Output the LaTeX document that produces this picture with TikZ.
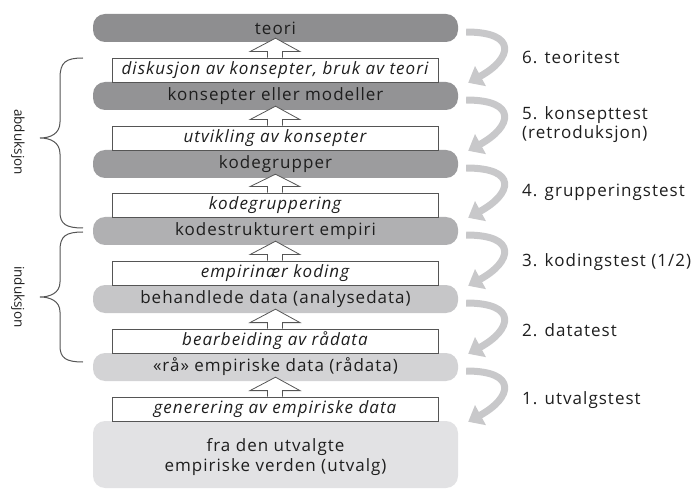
\documentclass[tikz,border=0pt]{standalone}
\usepackage{fontspec}
\setmainfont{Open Sans}[LetterSpace=6]
\usetikzlibrary{calc,arrows.meta}
\definecolor{gA}{HTML}{8E8E90}
\definecolor{gB}{HTML}{939395}
\definecolor{gC}{HTML}{9C9C9E}
\definecolor{gD}{HTML}{B0B0B2}
\definecolor{gE}{HTML}{C6C6C8}
\definecolor{gF}{HTML}{D3D3D5}
\definecolor{gG}{HTML}{E2E2E4}
\definecolor{curvgray}{HTML}{C8C8CA}
\definecolor{txt}{HTML}{1E1E1E}
\definecolor{edge}{HTML}{555555}
\tikzset{
  bar/.style={fill=#1, draw=none, rounded corners=12pt, minimum width=365pt, minimum height=28pt,
    inner sep=0pt, text=txt, font=\fontsize{17}{20}\selectfont},
  wbox/.style={fill=white, draw=edge, line width=0.8pt, minimum width=326pt, minimum height=24pt,
    inner sep=0pt, text=txt, font=\fontsize{17}{20}\selectfont\itshape},
  hollow/.style={fill=white, draw=edge, line width=0.8pt, line join=miter},
  curv/.style={draw=curvgray, line width=7pt, -{Triangle[width=22pt,length=14pt]}},
  testlbl/.style={anchor=west, inner sep=0pt, text=txt, align=left, font=\fontsize{17}{19}\selectfont},
  bracestyle/.style={draw=edge, line width=1pt},
  sidelbl/.style={rotate=-90, inner sep=0pt, text=txt, font=\fontsize{13.5}{16}\selectfont},
}
\begin{document}
\begin{tikzpicture}[x=1pt,y=-1pt]
\useasboundingbox (0,0) rectangle (699,489);
% bars
\node[bar=gA] (teori) at (275.5,28) {teori};
\node[bar=gB] (kons) at (275.5,96) {konsepter eller modeller};
\node[bar=gC] (kgr) at (275.5,164) {kodegrupper};
\node[bar=gD] (kstr) at (275.5,231) {kodestrukturert empiri};
\node[bar=gE] (beh) at (275.5,299) {behandlede data (analysedata)};
\node[bar=gF] (raa) at (275.5,367) {«rå» empiriske data (rådata)};
\node[bar=gG, minimum height=67pt, align=center, text depth=0pt] (utv) at (275.5,454.5) {fra den utvalgte\\empiriske verden (utvalg)};
% white boxes
\node[wbox] (b1) at (275,70) {diskusjon av konsepter, bruk av teori};
\node[wbox] (b2) at (275,138) {utvikling av konsepter};
\node[wbox] (b3) at (275,205) {kodegruppering};
\node[wbox] (b4) at (275,273) {empirinær koding};
\node[wbox] (b5) at (275,341) {bearbeiding av rådata};
\node[wbox] (b6) at (275,409) {generering av empiriske data};
% hollow arrows
\foreach \bx/\br in {b1/teori,b2/kons,b3/kgr,b4/kstr,b5/beh,b6/raa}{
  \path[hollow] ($(\bx.north)+(-7.5,0)$) -- ++(0,-6) -- ++(-17.5,0) -- ($(\br.south)+(0,-4)$)
     -- ($(\bx.north)+(25,-6)$) -- ++(-17.5,0) -- ++(0,6);
}
% curved test arrows
\foreach \a/\b in {teori/kons,kons/kgr,kgr/kstr,kstr/beh,beh/raa,raa/utv}{
  \draw[curv] ($(\a.east)+(8,4)$) .. controls +(52,0) and +(44,-24) .. ($(\b.north east)+(10,1)$);
}
% test labels
\node[testlbl] (t6) at (522,57) {6. teoritest};
\node[testlbl] (t5) at (522,125) {5. konsepttest\\(retroduksjon)};
\node[testlbl] (t4) at (522,192) {4. grupperingstest};
\node[testlbl] (t3) at (522,262) {3. kodingstest (1/2)};
\node[testlbl] (t2) at (522,330) {2. datatest};
\node[testlbl] (t1) at (522,400) {1. utvalgstest};
% braces
\draw[bracestyle] (83,58) .. controls (66,58) and (60,62) .. (60,78) -- (60,122)
   .. controls (60,134) and (50,138) .. (40,138) .. controls (50,138) and (60,142) .. (60,154)
   -- (60,212) .. controls (60,224) and (66,228) .. (83,228);
\draw[bracestyle] (83,232) .. controls (66,232) and (60,236) .. (60,250) -- (60,282)
   .. controls (60,293) and (50,297) .. (40,297) .. controls (50,297) and (60,301) .. (60,312)
   -- (60,346) .. controls (60,358) and (66,362) .. (83,362);
\node[sidelbl] (abd) at (18,142) {\addfontfeature{LetterSpace=0}abduksjon};
\node[sidelbl] (ind) at (18,297) {\addfontfeature{LetterSpace=0}induksjon};
\end{tikzpicture}
\end{document}
